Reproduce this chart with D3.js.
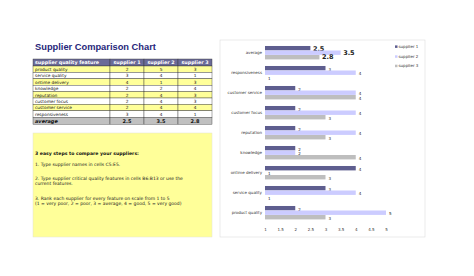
<!DOCTYPE html>
<html>
<head>
<meta charset="utf-8">
<script src="https://cdn.jsdelivr.net/npm/d3@7"></script>
<style>
  body { margin: 0; background: #fff; }
  svg { display: block; }
</style>
</head>
<body>
<div id="chart"></div>
<script>
// ---- data ----
var features = ["product quality", "service quality", "ontime delivery", "knowledge",
                "reputation", "customer focus", "customer service", "responsiveness"];
var suppliers = ["supplier 1", "supplier 2", "supplier 3"];
var supplier1 = [2, 3, 4, 2, 2, 2, 2, 3];
var supplier2 = [5, 4, 1, 2, 4, 4, 4, 4];
var supplier3 = [3, 1, 3, 4, 3, 3, 4, 1];
var averages = [2.5, 3.5, 2.8];
var xTicks = [1, 1.5, 2, 2.5, 3, 3.5, 4, 4.5, 5];
var steps = [
  "1. Type supplier names in cells C5:E5.",
  "2. Type supplier critical quality features in cells B6:B13 or use the",
  "current features.",
  "3. Rank each supplier for every feature on scale from 1 to 5",
  "(1 = very poor, 2 = poor, 3 = average, 4 = good, 5 = very good)"
];

var width = 474, height = 276;
var colors = ["#5e5e8f", "#ccccff", "#bebebe"];
var font = "DejaVu Sans, Verdana, sans-serif";

var svg = d3.select("#chart").append("svg")
  .attr("width", width).attr("height", height);

// ---- title ----
svg.append("text")
  .attr("x", 35).attr("y", 50)
  .style("font-family", "Liberation Sans, Arial, sans-serif")
  .style("font-weight", "bold").style("font-size", "9.3px")
  .style("fill", "#27277a")
  .text("Supplier Comparison Chart");

// ---- table ----
var colX = [33, 110, 144, 178, 212];
var headerTop = 59, headerH = 7, rowH = 6.4;
var rowsTop = headerTop + headerH;
var tbl = svg.append("g");

var headers = ["supplier quality feature"].concat(suppliers);
headers.forEach(function(h, c) {
  tbl.append("rect")
    .attr("x", colX[c]).attr("y", headerTop)
    .attr("width", colX[c + 1] - colX[c]).attr("height", headerH)
    .attr("fill", "#6b6b98").attr("stroke", "#333").attr("stroke-width", 0.4);
  tbl.append("text")
    .attr("x", c === 0 ? colX[c] + 2 : (colX[c] + colX[c + 1]) / 2)
    .attr("y", headerTop + headerH - 1.6)
    .attr("text-anchor", c === 0 ? "start" : "middle")
    .style("font-family", font).style("font-weight", "bold").style("font-size", "4.8px")
    .style("fill", "#fff").text(h);
});

var tableRows = features.map(function(f, i) {
  return [f, supplier1[i], supplier2[i], supplier3[i]];
});
tableRows.push(["average"].concat(averages));

tableRows.forEach(function(row, r) {
  var isAvg = r === tableRows.length - 1;
  var y = rowsTop + r * rowH;
  var h = isAvg ? 7 : rowH;
  var fill = isAvg ? "#c0c0c0" : (r % 2 === 0 ? "#ffff99" : "#ffffff");
  row.forEach(function(v, c) {
    tbl.append("rect")
      .attr("x", colX[c]).attr("y", y)
      .attr("width", colX[c + 1] - colX[c]).attr("height", h)
      .attr("fill", fill).attr("stroke", "#333").attr("stroke-width", 0.4);
    tbl.append("text")
      .attr("x", c === 0 ? colX[c] + 2 : (colX[c] + colX[c + 1]) / 2)
      .attr("y", y + h - 1.5)
      .attr("text-anchor", c === 0 ? "start" : "middle")
      .style("font-family", font)
      .style("font-weight", isAvg ? "bold" : "normal")
      .style("font-style", isAvg && c === 0 ? "italic" : "normal")
      .style("font-size", isAvg ? "5px" : "4.3px")
      .style("fill", "#111")
      .text(isAvg && c > 0 ? d3.format(".1f")(v) : v);
  });
});

// ---- instructions box ----
svg.append("rect")
  .attr("x", 33).attr("y", 133).attr("width", 179).attr("height", 104)
  .attr("fill", "#ffff99").attr("stroke", "#e4e4d0").attr("stroke-width", 0.5);
svg.append("text")
  .attr("x", 35).attr("y", 155)
  .style("font-family", font).style("font-weight", "bold").style("font-size", "4.6px")
  .style("fill", "#111").text("3 easy steps to compare your suppliers:");
var stepY = [166, 179.5, 184.5, 199.5, 204.5];
steps.forEach(function(s, i) {
  svg.append("text")
    .attr("x", 35).attr("y", stepY[i])
    .style("font-family", font).style("font-size", "4.5px")
    .style("fill", "#222").text(s);
});

// ---- chart panel ----
svg.append("rect")
  .attr("x", 220).attr("y", 40).attr("width", 205).attr("height", 197)
  .attr("fill", "#fff").attr("stroke", "#dcdcdc").attr("stroke-width", 0.6);

var categories = ["average"].concat(features.slice().reverse());
var series = [supplier1, supplier2, supplier3];
function valueOf(cat, s) {
  if (cat === "average") return averages[s];
  return series[s][features.indexOf(cat)];
}

var x = d3.scaleLinear().domain([1, 5]).range([265, 386]);
var y = d3.scaleBand().domain(categories).range([42.7, 222.7]).paddingInner(0.32).paddingOuter(0.16);
var ySub = d3.scaleBand().domain(d3.range(3)).range([0, y.bandwidth()]).padding(0.02);

var groups = svg.append("g").selectAll("g")
  .data(categories).enter().append("g")
  .attr("transform", function(d) { return "translate(0," + y(d) + ")"; });

groups.append("text")
  .attr("x", 262).attr("y", y.bandwidth() / 2 + 1.4)
  .attr("text-anchor", "end")
  .style("font-family", font).style("font-size", "4px").style("fill", "#333")
  .text(function(d) { return d; });

groups.each(function(cat) {
  var g = d3.select(this);
  d3.range(3).forEach(function(s) {
    var v = valueOf(cat, s);
    g.append("rect")
      .attr("x", x(1)).attr("y", ySub(s))
      .attr("width", x(v) - x(1)).attr("height", ySub.bandwidth())
      .attr("fill", colors[s]);
    var avg = cat === "average";
    g.append("text")
      .attr("x", x(v) + (avg ? 2.5 : 3))
      .attr("y", ySub(s) + ySub.bandwidth() / 2 + (avg ? 2.3 : 2.6))
      .style("font-family", font)
      .style("font-weight", avg ? "bold" : "normal")
      .style("font-size", avg ? "6.5px" : "4px")
      .style("fill", "#222")
      .text(avg ? d3.format(".1f")(v) : v);
  });
});

// x axis labels only
var xAxis = svg.append("g")
  .attr("transform", "translate(0,225)")
  .call(d3.axisBottom(x).tickValues(xTicks).tickSize(0).tickFormat(d3.format("")));
xAxis.select(".domain").remove();
xAxis.selectAll("text")
  .style("font-family", font).style("font-size", "4px").style("fill", "#333");

// legend
var legend = svg.append("g").selectAll("g")
  .data(suppliers).enter().append("g")
  .attr("transform", function(d, i) { return "translate(395," + [46.7, 56.6, 66][i] + ")"; });
legend.append("rect")
  .attr("x", 0).attr("y", -1.3).attr("width", 2.5).attr("height", 2.5)
  .attr("fill", function(d, i) { return colors[i]; });
legend.append("text")
  .attr("x", 3.5).attr("y", 1.4)
  .style("font-family", font).style("font-size", "4px").style("fill", "#333")
  .text(function(d) { return d; });
</script>
</body>
</html>
